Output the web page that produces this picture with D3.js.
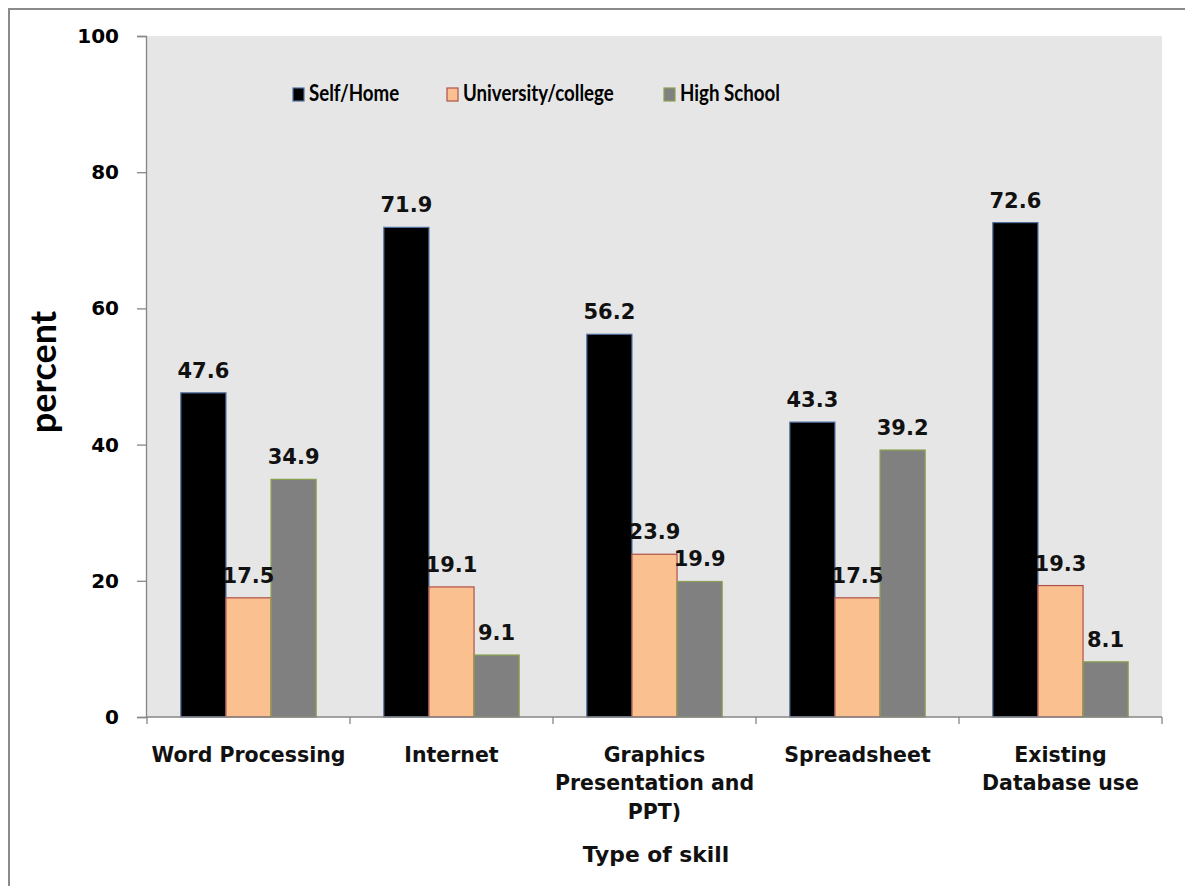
<!DOCTYPE html>
<html>
<head>
<meta charset="utf-8">
<script src="https://cdn.jsdelivr.net/npm/d3@7/dist/d3.min.js"></script>
<style>
  html, body { margin: 0; padding: 0; background: #fff; }
  svg { display: block; }
</style>
</head>
<body>
<svg id="chart" width="1185" height="886"></svg>
<script>
// Skill categories (multi-line labels) and the share learned from each source
const categories = ["Word Processing", "Internet", "Graphics Presentation and PPT)", "Spreadsheet", "Existing Database use"];
const categoryLines = [["Word Processing"], ["Internet"], ["Graphics", "Presentation and", "PPT)"], ["Spreadsheet"], ["Existing", "Database use"]];
const seriesNames = ["Self/Home", "University/college", "High School"];
const selfHome = [47.6, 71.9, 56.2, 43.3, 72.6];
const university = [17.5, 19.1, 23.9, 17.5, 19.3];
const highSchool = [34.9, 9.1, 19.9, 39.2, 8.1];
const yTicks = [0, 20, 40, 60, 80, 100];

const seriesValues = [selfHome, university, highSchool];
const fills = ["#000000", "#fac090", "#808080"];
const strokes = ["#4f6f9f", "#b0504a", "#8aa050"];

const svg = d3.select("#chart");
const W = 1185, H = 886;
const plot = { left: 147, right: 1162, top: 36, bottom: 717 };

// outer frame (left and top edges visible)
svg.append("rect").attr("x", 9).attr("y", 9).attr("width", W + 20).attr("height", H + 20)
  .attr("fill", "#fff").attr("stroke", "#8a8a8a").attr("stroke-width", 2);

// plot background
svg.append("rect").attr("x", plot.left).attr("y", plot.top)
  .attr("width", plot.right - plot.left).attr("height", plot.bottom - plot.top)
  .attr("fill", "#e6e6e6");

const x = d3.scaleBand().domain(categories).range([plot.left, plot.right]).paddingInner(0).paddingOuter(0);
const xs = d3.scaleBand().domain(seriesNames).range([0, x.bandwidth()]).paddingInner(0).paddingOuter(0.75);
const y = d3.scaleLinear().domain([0, 100]).range([plot.bottom, plot.top]);

const numFont = "'DejaVu Sans', sans-serif";
const axisColor = "#868686";

// y axis
const yAxis = svg.append("g").attr("transform", `translate(${plot.left - 1},0)`)
  .call(d3.axisLeft(y).tickValues(yTicks).tickSize(9).tickPadding(18).tickFormat(d3.format("d")));
yAxis.select(".domain").attr("stroke", axisColor).attr("stroke-width", 1.3);
yAxis.selectAll(".tick line").attr("stroke", axisColor).attr("stroke-width", 1.3);
yAxis.selectAll(".tick text").attr("font-family", numFont).attr("font-weight", "bold")
  .attr("font-size", 20).attr("fill", "#000");

// bars
const groups = svg.append("g").selectAll("g").data(seriesNames).join("g")
  .attr("fill", (d, i) => fills[i]).attr("stroke", (d, i) => strokes[i]).attr("stroke-width", 1.2);
groups.each(function (name, si) {
  d3.select(this).selectAll("rect").data(seriesValues[si]).join("rect")
    .attr("x", (v, ci) => x(categories[ci]) + xs(name))
    .attr("y", v => y(v))
    .attr("width", xs.bandwidth())
    .attr("height", v => y(0) - y(v));
});

// x axis
const xAxis = svg.append("g").attr("transform", `translate(0,${plot.bottom})`);
xAxis.append("line").attr("x1", plot.left - 1).attr("x2", plot.right).attr("y1", 0).attr("y2", 0)
  .attr("stroke", axisColor).attr("stroke-width", 1.3);
xAxis.selectAll("line.tk").data(categories.concat(["end"])).join("line").attr("class", "tk")
  .attr("x1", (d, i) => i < categories.length ? x(d) : plot.right)
  .attr("x2", (d, i) => i < categories.length ? x(d) : plot.right)
  .attr("y1", 0).attr("y2", 7).attr("stroke", axisColor).attr("stroke-width", 1.3);

// category labels
const catLabels = svg.append("g").selectAll("text").data(categories).join("text")
  .attr("x", d => x(d) + x.bandwidth() / 2)
  .attr("y", 762)
  .attr("text-anchor", "middle").attr("font-family", numFont).attr("font-weight", "bold")
  .attr("font-size", 20.5).attr("fill", "#111");
catLabels.each(function (d, i) {
  d3.select(this).selectAll("tspan").data(categoryLines[i]).join("tspan")
    .attr("x", x(d) + x.bandwidth() / 2)
    .attr("dy", (t, j) => j === 0 ? 0 : 28.3)
    .text(t => t);
});

// value labels
svg.append("g").selectAll("g").data(seriesNames).join("g").each(function (name, si) {
  d3.select(this).selectAll("text").data(seriesValues[si]).join("text")
    .attr("x", (v, ci) => x(categories[ci]) + xs(name) + xs.bandwidth() / 2)
    .attr("y", v => y(v) - 15)
    .attr("text-anchor", "middle").attr("font-family", numFont).attr("font-weight", "bold")
    .attr("font-size", 21).attr("fill", "#111")
    .text(v => d3.format(".1f")(v));
});

// legend (text condensed horizontally)
const legendX = [293, 447, 664];
const legend = svg.append("g").selectAll("g").data(seriesNames).join("g")
  .attr("transform", (d, i) => `translate(${legendX[i]},88)`);
legend.append("rect").attr("width", 11).attr("height", 13)
  .attr("fill", (d, i) => fills[i]).attr("stroke", (d, i) => strokes[i]).attr("stroke-width", 1.2);
legend.append("text").attr("transform", "translate(16,13) scale(0.85,1)")
  .attr("font-family", "Lato, sans-serif").attr("font-weight", "bold")
  .attr("font-size", 22).attr("fill", "#000").text(d => d);

// axis titles
svg.append("text").attr("transform", "translate(56,372) rotate(-90)")
  .attr("text-anchor", "middle").attr("font-family", "Lato, sans-serif").attr("font-weight", "bold")
  .attr("font-size", 36).attr("fill", "#000").text("percent");
svg.append("text").attr("x", 656).attr("y", 862)
  .attr("text-anchor", "middle").attr("font-family", numFont).attr("font-weight", "bold")
  .attr("font-size", 21.8).attr("fill", "#111").text("Type of skill");
</script>
</body>
</html>
